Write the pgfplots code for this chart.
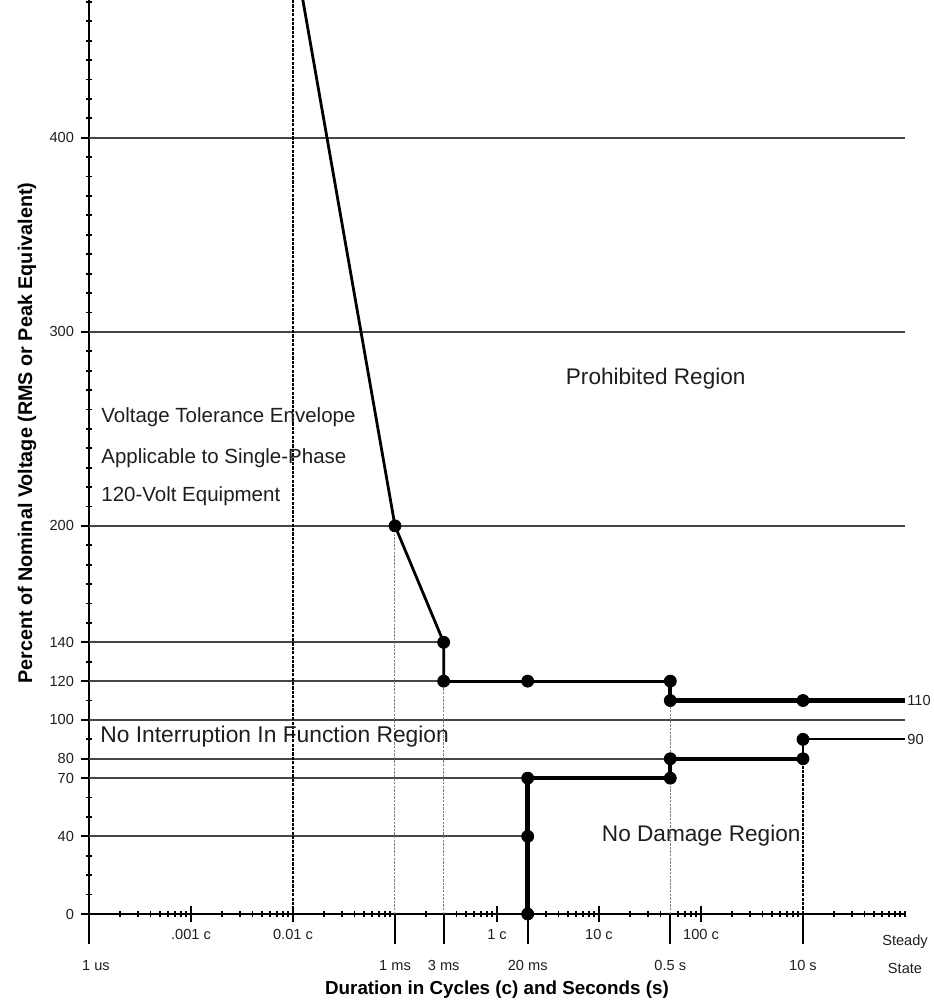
\documentclass[border=0pt]{standalone}
\usepackage{fontspec}
\setmainfont{Liberation Sans}
\usepackage{pgfplots}
\pgfplotsset{compat=1.18}

\definecolor{gridc}{RGB}{70,70,70}
\definecolor{txt}{RGB}{30,30,30}

\begin{document}
\begin{tikzpicture}
\path[use as bounding box] (-44.5pt,-44pt) rectangle (422pt,457pt);
\begin{axis}[
    at={(0,0)}, anchor=south west,
    scale only axis, width=408pt, height=457pt,
    xmode=log, xmin=1e-4, xmax=1e4,
    ymin=0, ymax=471,
    enlargelimits=false,
    axis x line=bottom, axis y line=left,
    axis line style={-, line width=1pt},
    clip mode=individual,
    tick align=center,
    major tick length=8pt,
    minor tick length=3pt,
    every tick/.style={black, line width=0.9pt},
    /pgf/number format/assume math mode=true,
    xtick={1e-3,1e-2,1,10,100},
    xticklabels={.001 c,0.01 c,1 c,10 c,100 c},
    minor xtick={2e-4,3e-4,4e-4,5e-4,6e-4,7e-4,8e-4,9e-4,
                 2e-3,3e-3,4e-3,5e-3,6e-3,7e-3,8e-3,9e-3,
                 2e-2,3e-2,4e-2,5e-2,6e-2,7e-2,8e-2,9e-2,
                 2e-1,4e-1,5e-1,6e-1,7e-1,8e-1,9e-1,
                 3,4,5,6,7,8,9,
                 20,30,40,60,70,80,90,
                 200,300,400,500,600,700,800,900,
                 2000,3000,4000,5000,6000,7000,8000,9000,10000},
    extra x ticks={1e-4,0.1,0.3,2,50,1000},
    extra x tick labels={\hspace*{7pt}1 us,1 ms,3 ms,20 ms,0.5 s,10 s},
    extra x tick style={tick align=outside, major tick length=15pt,
        xticklabel style={yshift=-4.5pt}},
    ytick={0,40,70,80,100,120,140,200,300,400},
    minor ytick={10,20,...,470},
    tick label style={font=\fontsize{7.3}{8}\selectfont, text=txt},
    xlabel={Duration in Cycles (c) and Seconds (s)},
    ylabel={Percent of Nominal Voltage (RMS or Peak Equivalent)},
    xlabel style={font=\fontsize{9.4}{10}\selectfont\bfseries,
        at={(axis description cs:0.5,0)}, anchor=center, yshift=-38pt},
    ylabel style={font=\fontsize{9.9}{10}\selectfont\bfseries,
        at={(axis description cs:-0.076,0.526)}, anchor=center},
]
% horizontal reference lines
\addplot[gridc, line width=0.9pt] coordinates {(1e-4,400) (1e4,400)};
\addplot[gridc, line width=0.9pt] coordinates {(1e-4,300) (1e4,300)};
\addplot[gridc, line width=0.9pt] coordinates {(1e-4,200) (1e4,200)};
\addplot[gridc, line width=0.9pt] coordinates {(1e-4,140) (0.3,140)};
\addplot[gridc, line width=0.9pt] coordinates {(1e-4,120) (0.3,120)};
\addplot[gridc, line width=0.9pt] coordinates {(1e-4,100) (1e4,100)};
\addplot[gridc, line width=0.9pt] coordinates {(1e-4,80) (50,80)};
\addplot[gridc, line width=0.9pt] coordinates {(1e-4,70) (2,70)};
\addplot[gridc, line width=0.9pt] coordinates {(1e-4,40) (2,40)};

% vertical guides
\addplot[black, line width=1.3pt, dash pattern=on 1.6pt off 0.6pt] coordinates {(0.01,0) (0.01,471)};
\addplot[gray, line width=0.5pt, dash pattern=on 1.2pt off 0.6pt] coordinates {(0.1,0) (0.1,200)};
\addplot[gray, line width=0.5pt, dash pattern=on 1.2pt off 0.6pt] coordinates {(0.3,0) (0.3,120)};
\addplot[gray, line width=0.5pt, dash pattern=on 1.2pt off 0.6pt] coordinates {(50,0) (50,110)};
\addplot[black, line width=1.1pt, dash pattern=on 1.6pt off 0.6pt] coordinates {(1000,0) (1000,80)};

% upper envelope
\addplot[black, line width=1.4pt] coordinates {(0.01,500) (0.1,200) (0.3,140) (0.3,120)};
\addplot[black, line width=1.6pt] coordinates {(0.3,120) (50,120)};
\addplot[black, line width=2.2pt] coordinates {(50,120) (50,110) (1e4,110)};
% lower envelope
\addplot[black, line width=2.2pt] coordinates {(2,0) (2,70) (50,70) (50,80) (1000,80)};
\addplot[black, line width=1pt] coordinates {(1000,80) (1000,90) (1e4,90)};
% corner points
\addplot[only marks, mark=*, mark size=3pt, black] coordinates {
    (0.1,200) (0.3,140) (0.3,120) (2,120) (50,120) (50,110) (1000,110)
    (2,0) (2,40) (2,70) (50,70) (50,80) (1000,80) (1000,90)};

% annotations
\node[anchor=west, font=\fontsize{7.3}{8}\selectfont, text=txt, inner xsep=1pt] at (axis cs:1e4,110) {110};
\node[anchor=west, font=\fontsize{7.3}{8}\selectfont, text=txt, inner xsep=1pt] at (axis cs:1e4,90) {90};
\node[align=center, font=\fontsize{7.3}{14}\selectfont, text=txt, yshift=-20pt] at (axis cs:1e4,0) {Steady\\State};
\node[font=\fontsize{11.3}{13}\selectfont, text=txt] at (axis cs:36,276) {Prohibited Region};
\node[anchor=west, inner xsep=0pt, font=\fontsize{10.25}{12}\selectfont, text=txt] at (axis cs:1.31e-4,256) {Voltage Tolerance Envelope};
\node[anchor=west, inner xsep=0pt, font=\fontsize{10.25}{12}\selectfont, text=txt] at (axis cs:1.31e-4,235) {Applicable to Single-Phase};
\node[anchor=west, inner xsep=0pt, font=\fontsize{10.25}{12}\selectfont, text=txt] at (axis cs:1.31e-4,215.5) {120-Volt Equipment};
\node[anchor=west, inner xsep=0pt, font=\fontsize{11.4}{13}\selectfont, text=txt] at (axis cs:1.28e-4,91.2) {No Interruption In Function Region};
\node[anchor=west, inner xsep=0pt, font=\fontsize{11.3}{13}\selectfont, text=txt] at (axis cs:10.6,40.2) {No Damage Region};
\end{axis}
\end{tikzpicture}
\end{document}
